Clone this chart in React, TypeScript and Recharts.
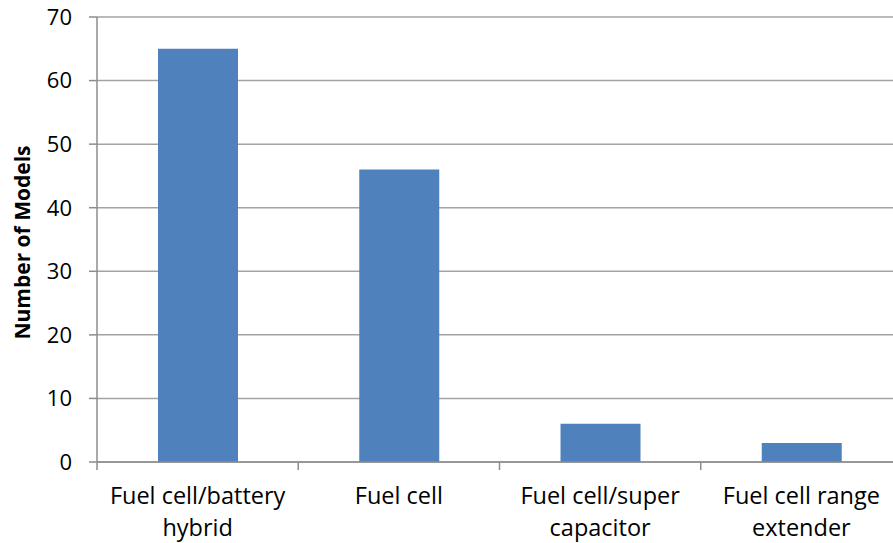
import { Bar, BarChart, CartesianGrid, XAxis, YAxis } from "recharts";

const categories = [
  "Fuel cell/battery hybrid",
  "Fuel cell",
  "Fuel cell/super capacitor",
  "Fuel cell range extender",
];
const labelLines = [
  ["Fuel cell/battery", "hybrid"],
  ["Fuel cell"],
  ["Fuel cell/super", "capacitor"],
  ["Fuel cell range", "extender"],
];
const models = [65, 46, 6, 3];
const yTicks = [0, 10, 20, 30, 40, 50, 60, 70];

const data = categories.map((name, i) => ({ name, models: models[i] }));

const FONT = "'Open Sans', sans-serif";
const AXIS = "#8c8c8c";
const BAND = 805 / categories.length;

function CategoryTick(props: any) {
  const { x, y, index } = props;
  const lines = labelLines[index] ?? [];
  return (
    <g>
      <line
        x1={x - BAND / 2}
        x2={x - BAND / 2}
        y1={y - 8}
        y2={y}
        stroke={AXIS}
        strokeWidth={1.5}
      />
      <text x={x} y={y} textAnchor="middle" fontFamily={FONT} fontSize={23.5} fill="#000">
        {lines.map((line, i) => (
          <tspan key={i} x={x} dy={i === 0 ? 34 : 32}>
            {line}
          </tspan>
        ))}
      </text>
    </g>
  );
}

function YTitle(props: any) {
  const { viewBox } = props;
  const cx = 22;
  const cy = viewBox.y + viewBox.height / 2 + 3;
  return (
    <text
      x={cx}
      y={cy}
      transform={`rotate(-90, ${cx}, ${cy})`}
      textAnchor="middle"
      dominantBaseline="central"
      fontFamily={FONT}
      fontWeight="bold"
      fontSize={21}
      fill="#000"
    >
      Number of Models
    </text>
  );
}

export default function App() {
  return (
    <div
      style={{
        position: "fixed",
        left: 0,
        top: 0,
        width: 893,
        height: 543,
        overflow: "hidden",
        background: "#fff",
      }}
    >
      <BarChart
        width={910}
        height={543}
        data={data}
        margin={{ top: 17, right: 8, bottom: 0, left: 0 }}
      >
        <CartesianGrid vertical={false} stroke="#a3a3a3" strokeWidth={1.5} />
        <XAxis
          dataKey="name"
          interval={0}
          height={81}
          stroke={AXIS}
          strokeWidth={1.5}
          tickLine={false}
          tickSize={8}
          tickMargin={0}
          tick={<CategoryTick />}
        />
        <YAxis
          width={97}
          domain={[0, 70]}
          ticks={yTicks}
          interval={0}
          stroke={AXIS}
          strokeWidth={1.5}
          tickSize={8}
          tickMargin={17}
          tick={{ fontFamily: FONT, fontSize: 22, fill: "#000" }}
          label={{ content: <YTitle /> }}
        />
        <Bar dataKey="models" fill="#4f81bd" barSize={80} isAnimationActive={false} />
      </BarChart>
    </div>
  );
}
